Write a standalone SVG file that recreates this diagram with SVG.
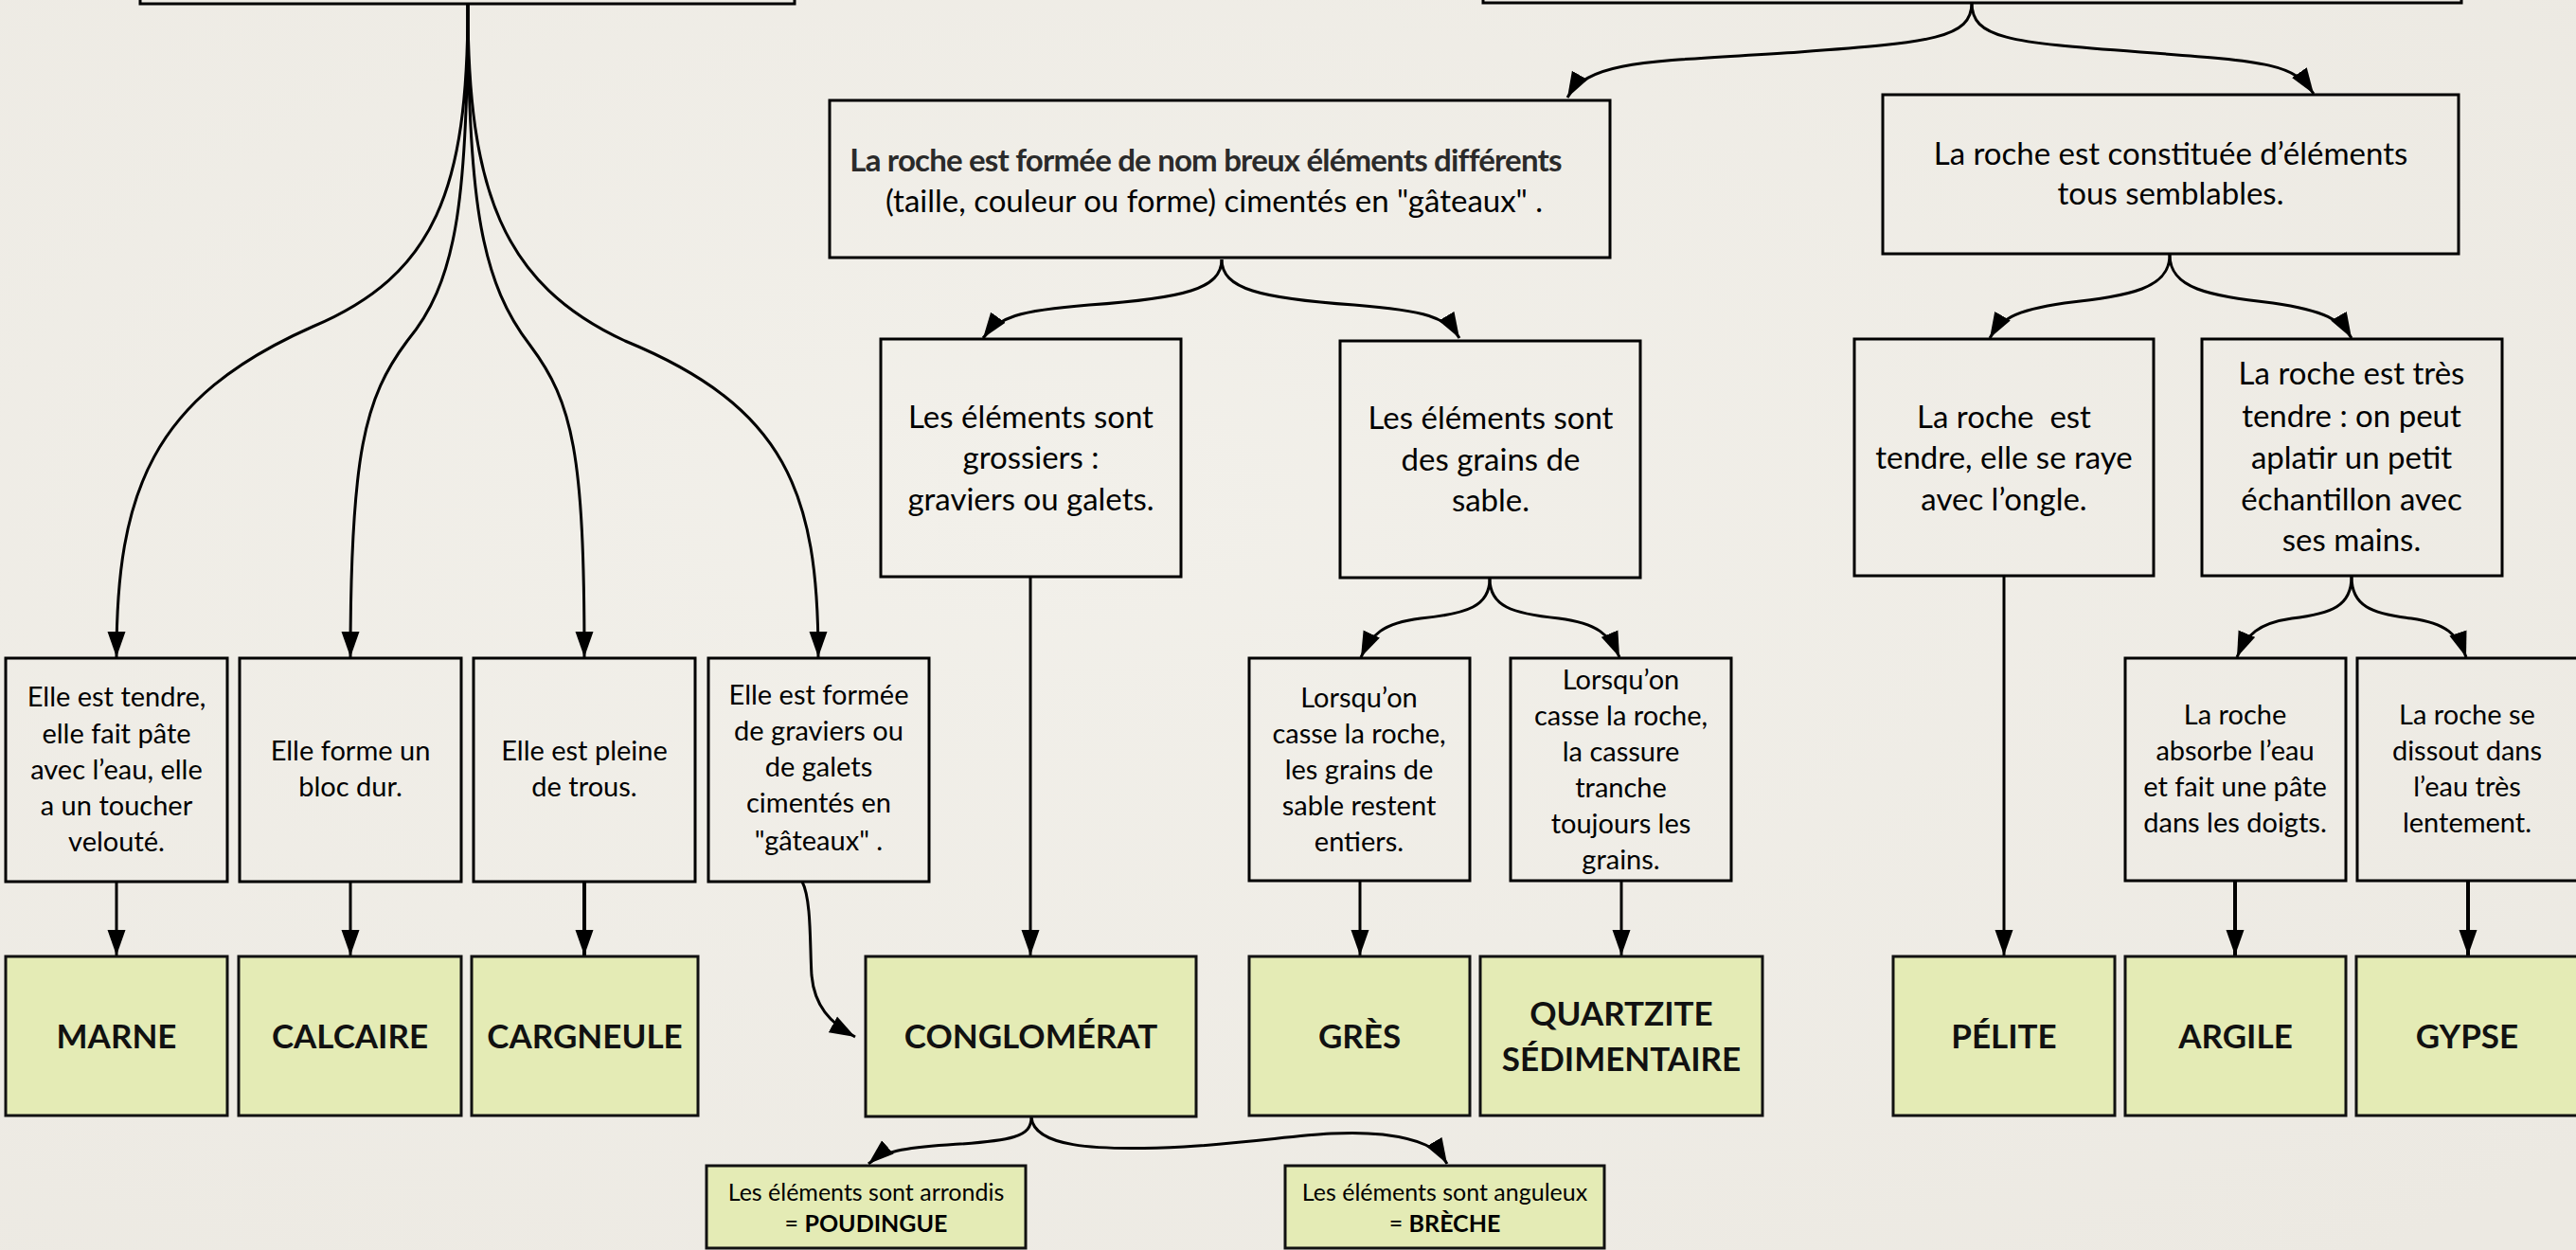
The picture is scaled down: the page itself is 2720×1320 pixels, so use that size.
<svg xmlns="http://www.w3.org/2000/svg" width="2720" height="1320" viewBox="0 0 2720 1320">
<defs>
<radialGradient id="bg" cx="0.4" cy="0.4" r="0.8">
<stop offset="0" stop-color="#F2F0EA"/>
<stop offset="1" stop-color="#ECE9E2"/>
</radialGradient>
<marker id="ah" markerUnits="userSpaceOnUse" markerWidth="28" markerHeight="20" viewBox="0 0 28 20" refX="27" refY="10" orient="auto">
<path d="M0,0.5 L27,10 L0,19.5 z" fill="#000"/>
</marker>
<style>
.box{fill:none;stroke:#000;stroke-width:3}
.leaf{fill:#E4EBB5;stroke:#111;stroke-width:3}
.t{font-family:Lato,"Liberation Sans",sans-serif;fill:#000;text-anchor:middle}
.s{font-size:29px}
.m{font-size:33px}
.xs{font-size:25px}
.bl{font-size:35px;font-weight:bold;fill:#111}
.b{font-weight:bold}
.conn path{fill:none;stroke:#000;stroke-width:3;marker-end:url(#ah)}
.conn path.thick{stroke-width:4}
</style>
</defs>
<rect width="2720" height="1320" fill="url(#bg)"/>

<g class="conn" id="connectors">
<path d="M494,4 C494,200 460,290 330,345 C160,420 123,520 123,694"/>
<path d="M494,4 C494,220 480,300 430,360 C385,420 370,480 370,694"/>
<path d="M494,4 C494,220 510,300 560,365 C605,425 617,480 617,694"/>
<path d="M494,4 C494,200 530,300 660,360 C830,430 864,520 864,694"/>
<path d="M2082,3 C2082,40 2040,45 1900,55 C1750,65 1678,62 1655,103"/>
<path d="M2082,3 C2082,40 2120,45 2260,55 C2400,65 2422,68 2443,99"/>
<path d="M1290,274 C1290,305 1250,315 1150,322 C1075,328 1054,335 1038,357"/>
<path d="M1290,274 C1290,305 1330,315 1430,322 C1505,328 1528,335 1541,357"/>
<path d="M2291,269 C2291,305 2250,312 2180,320 C2125,328 2112,338 2101,357"/>
<path d="M2291,269 C2291,305 2332,312 2400,320 C2455,328 2472,338 2483,357"/>
<path d="M1573,611 C1573,640 1550,648 1500,653 C1460,658 1448,670 1437,694"/>
<path d="M1573,611 C1573,640 1596,648 1646,653 C1686,658 1700,670 1710,694"/>
<path d="M2483,609 C2483,640 2462,648 2420,653 C2385,658 2372,670 2362,694"/>
<path d="M2483,609 C2483,640 2504,648 2546,653 C2582,658 2596,670 2604,694"/>
<path d="M1089,1180 C1089,1200 1070,1205 1000,1209 C955,1212 932,1216 917,1229"/>
<path d="M1089,1180 C1092,1210 1150,1216 1250,1211 C1350,1205 1400,1192 1460,1198 C1500,1203 1518,1212 1528,1229"/>
<path d="M847,931 C857,950 855,1000 857,1030 C860,1062 876,1080 903,1095"/>
<path d="M123,931 L123,1009"/>
<path d="M370,931 L370,1009"/>
<path class="thick" d="M617,931 L617,1009"/>
<path d="M1088,609 L1088,1009"/>
<path d="M1436,930 L1436,1009"/>
<path d="M1712,930 L1712,1009"/>
<path d="M2116,608 L2116,1009"/>
<path class="thick" d="M2360,930 L2360,1009"/>
<path class="thick" d="M2606,930 L2606,1009"/>
</g>

<g id="root-left"><rect class="box" x="148" y="-60" width="691" height="64"/></g>
<g id="root-right"><rect class="box" x="1566" y="-60" width="1033" height="63"/></g>

<g id="n-differents">
<rect class="box" x="876" y="106" width="824" height="166"/>
<text class="t m" x="1273" y="181" style="fill:#2a2a2a;font-weight:bold;letter-spacing:-0.8px">La roche est formée de nom breux éléments différents</text>
<text class="t m" x="1282" y="224">(taille, couleur ou forme) cimentés en "gâteaux" .</text>
</g>
<g id="n-semblables">
<rect class="box" x="1988" y="100" width="608" height="168"/>
<text class="t m" x="2292" y="174">La roche est constituée d’éléments</text>
<text class="t m" x="2292" y="216">tous semblables.</text>
</g>

<g id="n-grossiers">
<rect class="box" x="930" y="358" width="317" height="251"/>
<text class="t m" x="1088.5" y="452">Les éléments sont</text>
<text class="t m" x="1088.5" y="495">grossiers :</text>
<text class="t m" x="1088.5" y="539">graviers ou galets.</text>
</g>
<g id="n-sable">
<rect class="box" x="1415" y="360" width="317" height="250"/>
<text class="t m" x="1574" y="453">Les éléments sont</text>
<text class="t m" x="1574" y="497">des grains de</text>
<text class="t m" x="1574" y="540">sable.</text>
</g>
<g id="n-raye">
<rect class="box" x="1958" y="358" width="316" height="250"/>
<text class="t m" x="2116" y="452" xml:space="preserve">La roche  est</text>
<text class="t m" x="2116" y="495">tendre, elle se raye</text>
<text class="t m" x="2116" y="539">avec l’ongle.</text>
</g>
<g id="n-mains">
<rect class="box" x="2325" y="358" width="317" height="250"/>
<text class="t m" x="2483" y="406">La roche est très</text>
<text class="t m" x="2483" y="451">tendre : on peut</text>
<text class="t m" x="2483" y="495">aplatir un petit</text>
<text class="t m" x="2483" y="539">échantillon avec</text>
<text class="t m" x="2483" y="582">ses mains.</text>
</g>

<g id="n-tendre">
<rect class="box" x="6" y="695" width="234" height="236"/>
<text class="t s" x="123" y="746">Elle est tendre,</text>
<text class="t s" x="123" y="785">elle fait pâte</text>
<text class="t s" x="123" y="823">avec l’eau, elle</text>
<text class="t s" x="123" y="861">a un toucher</text>
<text class="t s" x="123" y="899">velouté.</text>
</g>
<g id="n-dur">
<rect class="box" x="253" y="695" width="234" height="236"/>
<text class="t s" x="370" y="803">Elle forme un</text>
<text class="t s" x="370" y="841">bloc dur.</text>
</g>
<g id="n-trous">
<rect class="box" x="500" y="695" width="234" height="236"/>
<text class="t s" x="617" y="803">Elle est pleine</text>
<text class="t s" x="617" y="841">de trous.</text>
</g>
<g id="n-galets">
<rect class="box" x="748" y="695" width="233" height="236"/>
<text class="t s" x="864.5" y="744">Elle est formée</text>
<text class="t s" x="864.5" y="782">de graviers ou</text>
<text class="t s" x="864.5" y="820">de galets</text>
<text class="t s" x="864.5" y="858">cimentés en</text>
<text class="t s" x="864.5" y="898">"gâteaux" .</text>
</g>
<g id="n-entiers">
<rect class="box" x="1319" y="695" width="233" height="235"/>
<text class="t s" x="1435" y="747">Lorsqu’on</text>
<text class="t s" x="1435" y="785">casse la roche,</text>
<text class="t s" x="1435" y="823">les grains de</text>
<text class="t s" x="1435" y="861">sable restent</text>
<text class="t s" x="1435" y="899">entiers.</text>
</g>
<g id="n-tranche">
<rect class="box" x="1595" y="695" width="233" height="235"/>
<text class="t s" x="1711.5" y="728">Lorsqu’on</text>
<text class="t s" x="1711.5" y="766">casse la roche,</text>
<text class="t s" x="1711.5" y="804">la cassure</text>
<text class="t s" x="1711.5" y="842">tranche</text>
<text class="t s" x="1711.5" y="880">toujours les</text>
<text class="t s" x="1711.5" y="918">grains.</text>
</g>
<g id="n-absorbe">
<rect class="box" x="2244" y="695" width="233" height="235"/>
<text class="t s" x="2360" y="765">La roche</text>
<text class="t s" x="2360" y="803">absorbe l’eau</text>
<text class="t s" x="2360" y="841">et fait une pâte</text>
<text class="t s" x="2360" y="879">dans les doigts.</text>
</g>
<g id="n-dissout">
<rect class="box" x="2489" y="695" width="234" height="235"/>
<text class="t s" x="2605" y="765">La roche se</text>
<text class="t s" x="2605" y="803">dissout dans</text>
<text class="t s" x="2605" y="841">l’eau très</text>
<text class="t s" x="2605" y="879">lentement.</text>
</g>

<g id="marne"><rect class="leaf" x="6" y="1010" width="234" height="168"/><text class="t bl" x="123" y="1107">MARNE</text></g>
<g id="calcaire"><rect class="leaf" x="252" y="1010" width="235" height="168"/><text class="t bl" x="369.5" y="1107">CALCAIRE</text></g>
<g id="cargneule"><rect class="leaf" x="498" y="1010" width="239" height="168"/><text class="t bl" x="617.5" y="1107">CARGNEULE</text></g>
<g id="conglomerat"><rect class="leaf" x="914" y="1010" width="349" height="169"/><text class="t bl" x="1088.5" y="1107">CONGLOMÉRAT</text></g>
<g id="gres"><rect class="leaf" x="1319" y="1010" width="233" height="168"/><text class="t bl" x="1435.5" y="1107">GRÈS</text></g>
<g id="quartzite"><rect class="leaf" x="1563" y="1010" width="298" height="168"/><text class="t bl" x="1712" y="1083">QUARTZITE</text><text class="t bl" x="1712" y="1131">SÉDIMENTAIRE</text></g>
<g id="pelite"><rect class="leaf" x="1999" y="1010" width="234" height="168"/><text class="t bl" x="2116" y="1107">PÉLITE</text></g>
<g id="argile"><rect class="leaf" x="2244" y="1010" width="233" height="168"/><text class="t bl" x="2360.5" y="1107">ARGILE</text></g>
<g id="gypse"><rect class="leaf" x="2488" y="1010" width="235" height="168"/><text class="t bl" x="2605" y="1107">GYPSE</text></g>

<g id="poudingue"><rect class="leaf" x="746" y="1231" width="337" height="87"/><text class="t xs" x="914.5" y="1268">Les éléments sont arrondis</text><text class="t xs" x="914.5" y="1301">= <tspan class="b">POUDINGUE</tspan></text></g>
<g id="breche"><rect class="leaf" x="1357" y="1231" width="337" height="87"/><text class="t xs" x="1525.5" y="1268">Les éléments sont anguleux</text><text class="t xs" x="1525.5" y="1301">= <tspan class="b">BRÈCHE</tspan></text></g>
</svg>
